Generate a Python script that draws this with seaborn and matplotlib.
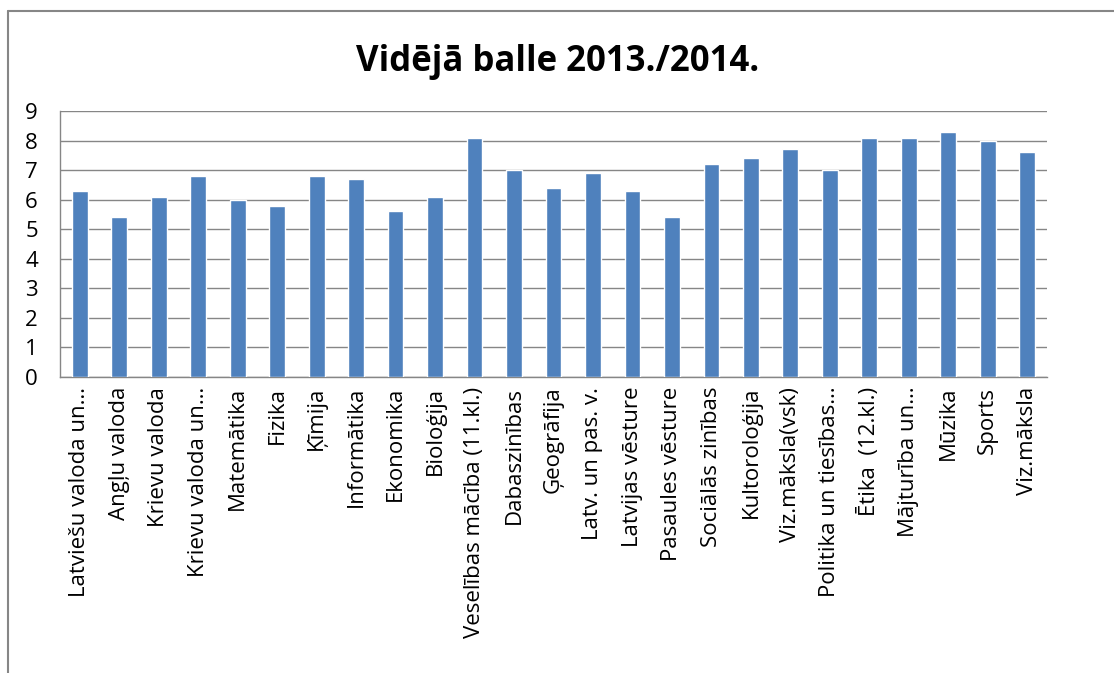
import matplotlib
matplotlib.use("Agg")
import matplotlib.pyplot as plt
import seaborn as sns
import pandas as pd
from matplotlib.lines import Line2D

subjects = [
    "Latviešu valoda un…", "Angļu valoda", "Krievu valoda", "Krievu valoda un…",
    "Matemātika", "Fizika", "Ķīmija", "Informātika", "Ekonomika", "Bioloģija",
    "Veselības mācība (11.kl.)", "Dabaszinības", "Ģeogrāfija", "Latv. un pas. v.",
    "Latvijas vēsture", "Pasaules vēsture", "Sociālās zinības", "Kultoroloģija",
    "Viz.māksla(vsk)", "Politika un tiesības…", "Ētika  (12.kl.)", "Mājturība un…",
    "Mūzika", "Sports", "Viz.māksla",
]
scores = [6.3, 5.4, 6.1, 6.8, 6.0, 5.8, 6.8, 6.7, 5.6, 6.1,
          8.1, 7.0, 6.4, 6.9, 6.3, 5.4, 7.2, 7.4, 7.7, 7.0,
          8.1, 8.1, 8.3, 8.0, 7.6]
y_ticks = list(range(0, 10))
title = "Vidējā balle 2013./2014."

sns.set_theme(style="white")
plt.rcParams['font.family'] = ['Open Sans', 'DejaVu Sans']

df = pd.DataFrame({"subject": subjects, "score": scores})

fig = plt.figure(figsize=(11.14, 6.73), dpi=100)
ax = fig.add_axes([60/1114, 1-377/673, (1047-60)/1114, (377-111)/673])

sns.barplot(data=df, x="subject", y="score", color="#4F81BD", saturation=1,
            width=0.4, ax=ax, zorder=3)

ax.set_ylim(0, 9)
ax.set_yticks(y_ticks)
ax.set_xlim(-0.5, len(subjects) - 0.5)
ax.yaxis.grid(True, color="#868686", linewidth=1.0, zorder=0)
ax.set_axisbelow(True)
ax.set_xlabel("")
ax.set_ylabel("")
for s in ["top", "right"]:
    ax.spines[s].set_visible(False)
for s in ["left", "bottom"]:
    ax.spines[s].set_color("#868686")
    ax.spines[s].set_linewidth(1.0)
ax.tick_params(axis="y", length=0, pad=16, labelsize=16, colors="black")
ax.tick_params(axis="x", length=0, pad=7, labelsize=16, colors="black")
ax.set_xticks(range(len(subjects)))
ax.set_xticklabels(subjects, rotation=90, ha="center", va="top")

fig.text(558/1114, 1-62/673, title, ha="center", va="center",
         fontsize=25, fontweight="bold", color="black")

# chart area border (top and left edges visible)
fig.add_artist(Line2D([8/1114, 8/1114], [0, 1-11/673], transform=fig.transFigure,
                      color="#868686", linewidth=1.5))
fig.add_artist(Line2D([8/1114, 1], [1-11/673, 1-11/673], transform=fig.transFigure,
                      color="#868686", linewidth=1.5))

fig.savefig("out.png", dpi=100)
